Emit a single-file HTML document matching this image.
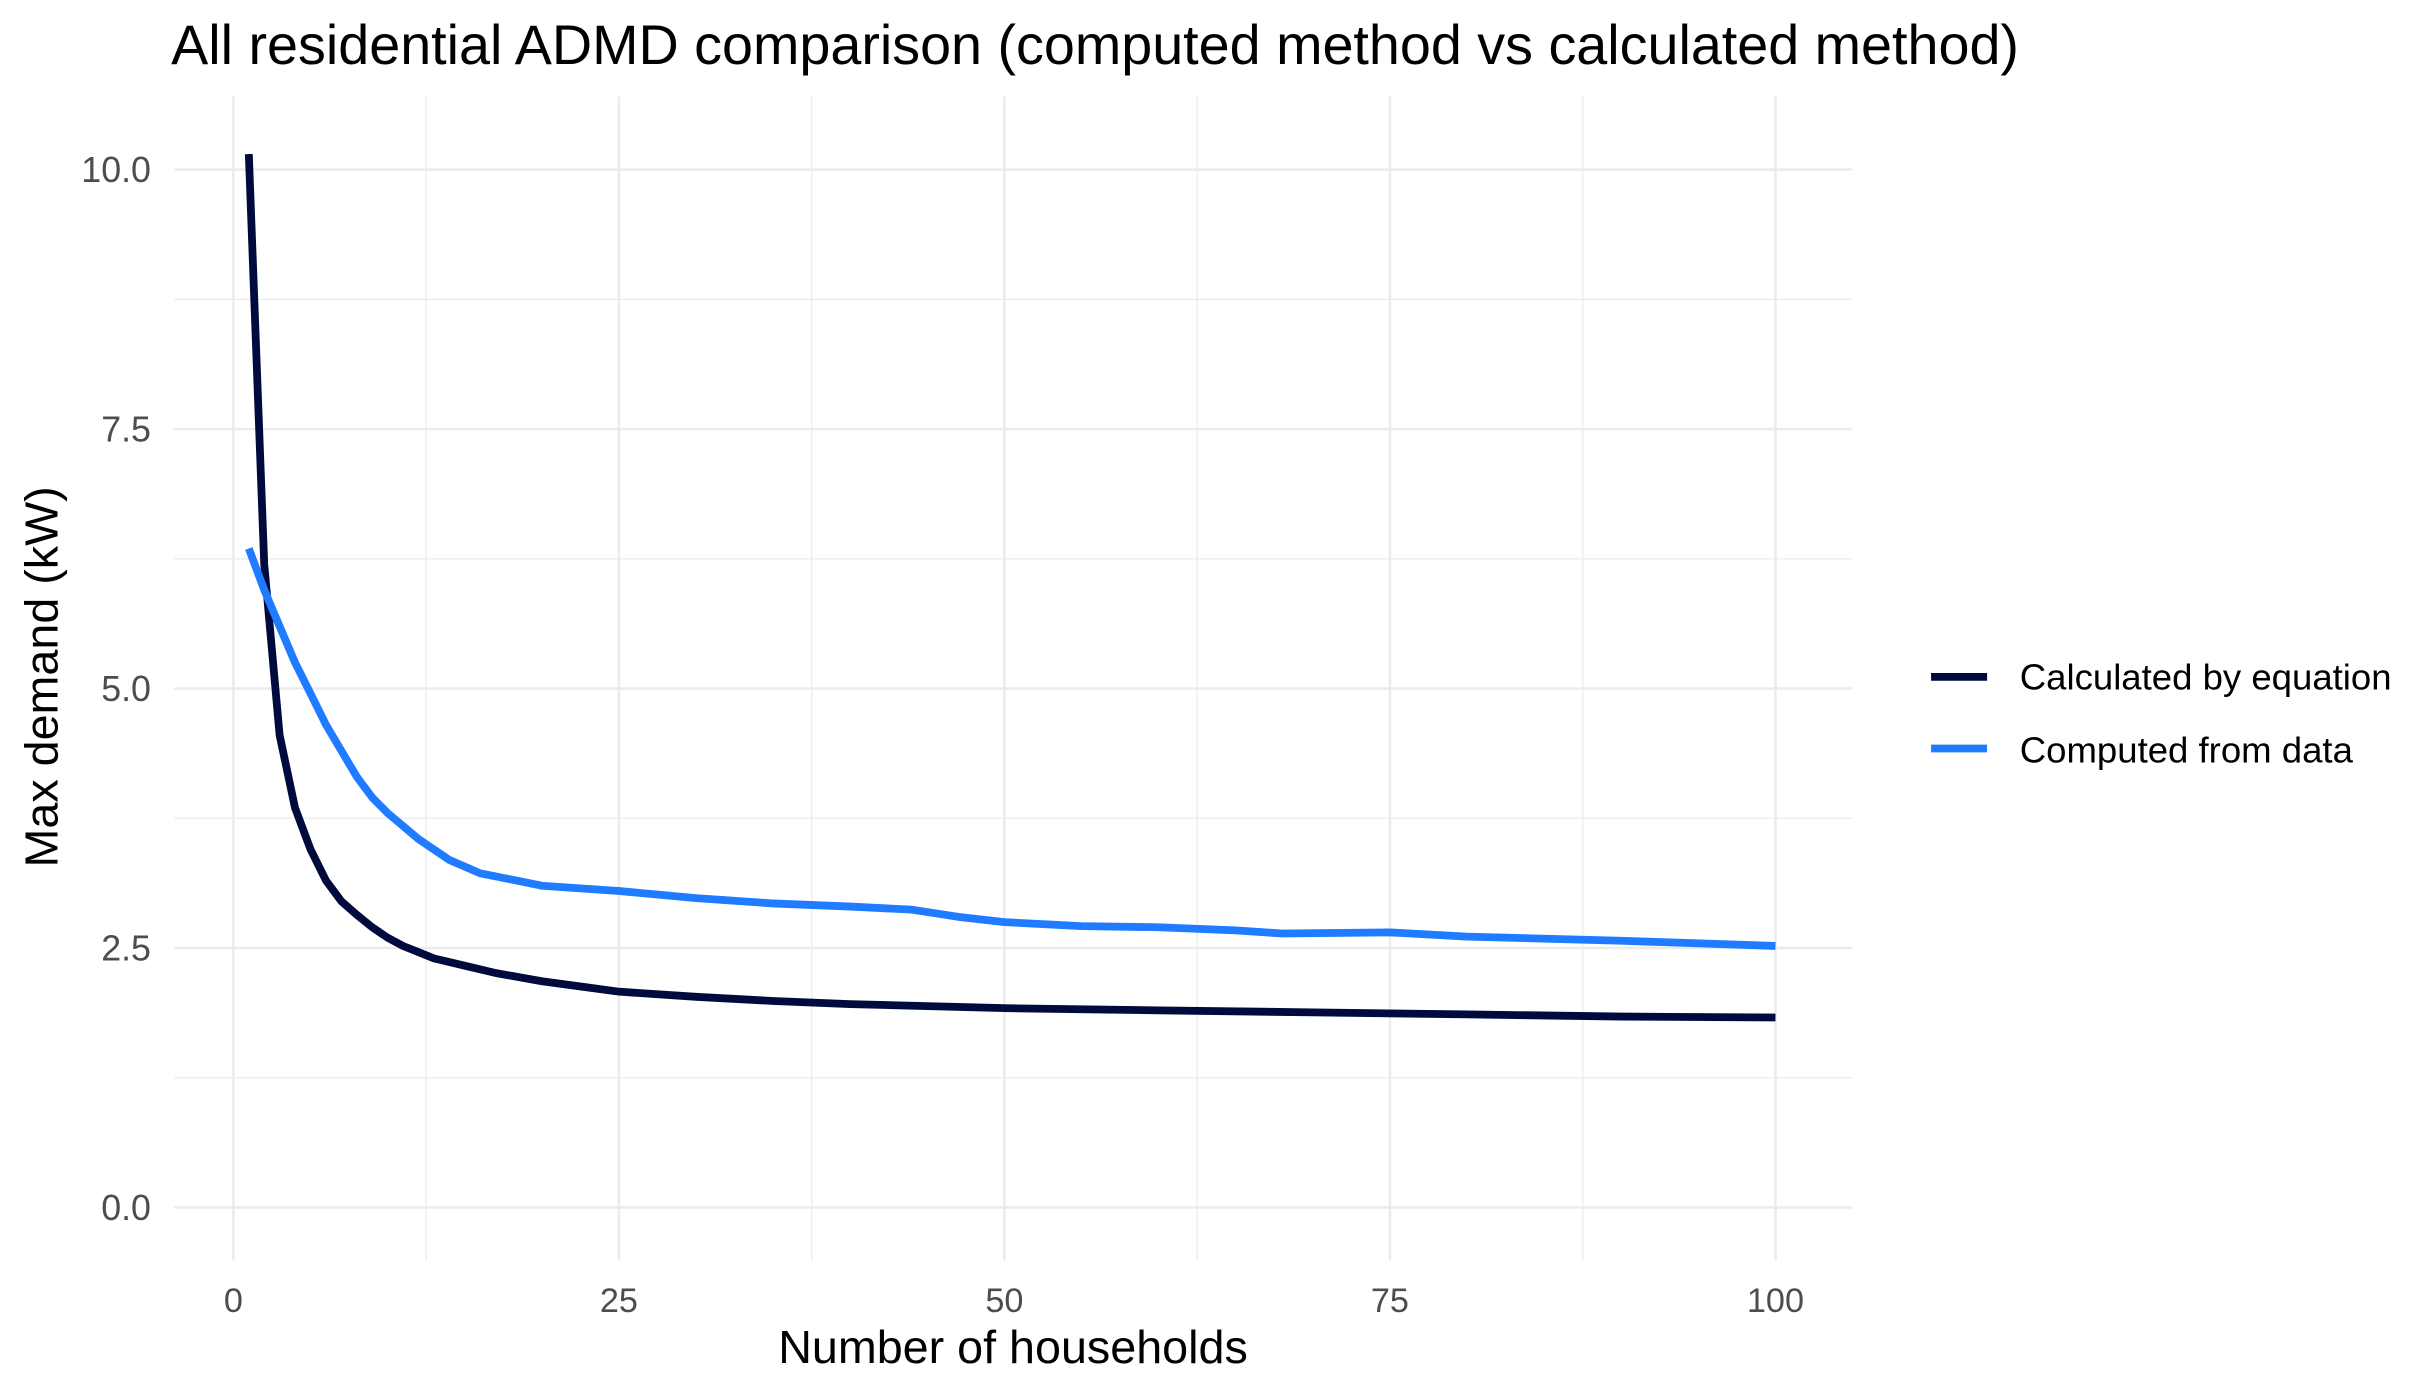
<!DOCTYPE html>
<html><head><meta charset="utf-8"><style>
html,body{margin:0;padding:0;background:#fff;}
svg{display:block;font-family:"Liberation Sans",Arial,sans-serif;}
</style></head><body>
<svg id="chart" width="2415" height="1381" viewBox="0 0 1552 887.5" xmlns="http://www.w3.org/2000/svg">
<rect width="1552" height="887.5" fill="#fff"/>
<g id="grid"></g>
<g id="lines"></g>
<g id="axes"></g>
<text x="110" y="41" font-size="35.8" fill="#000">All residential ADMD comparison (computed method vs calculated method)</text>
<text x="651" y="876" font-size="30" text-anchor="middle" fill="#000">Number of households</text>
<text transform="translate(37,435) rotate(-90)" font-size="30" text-anchor="middle" fill="#000">Max demand (kW)</text>
<g>
<line x1="1241" x2="1277" y1="435" y2="435" stroke="#000a3d" stroke-width="5"/>
<text x="1298" y="443" font-size="23.5" fill="#000">Calculated by equation</text>
<line x1="1241" x2="1277" y1="481" y2="481" stroke="#1f7bff" stroke-width="5"/>
<text x="1298" y="490" font-size="23.5" fill="#000">Computed from data</text>
</g>
</svg>
<script>
const xTicks=[0,25,50,75,100];
const yTicks=[0,2.5,5,7.5,10];
const eqN=[1,2,3,4,5,6,7,8,9,10,11,12,13,15,17,20,23,25,30,35,40,45,50,60,70,80,90,100];
const eqVal=[10.15,6.2,4.55,3.85,3.45,3.15,2.95,2.82,2.7,2.6,2.52,2.46,2.4,2.33,2.26,2.18,2.12,2.08,2.03,1.99,1.96,1.94,1.92,1.9,1.88,1.86,1.84,1.83];
const dataN=[1,2,3,4,5,6,7,8,9,10,12,14,16,18,20,25,30,35,40,44,47,50,55,60,65,68,75,80,90,100];
const dataVal=[6.35,5.95,5.6,5.25,4.95,4.65,4.4,4.15,3.95,3.8,3.55,3.35,3.22,3.16,3.1,3.05,2.98,2.93,2.9,2.87,2.8,2.75,2.71,2.7,2.67,2.64,2.65,2.61,2.57,2.52];
const NS="http://www.w3.org/2000/svg";
const X0=112,X1=1190,Y0=62,Y1=810;
function sx(v){return 150+v*(1141-150)/100;}
function sy(v){return 776-v*(776-109)/10;}
function mk(t,a,p){const e=document.createElementNS(NS,t);for(const k in a)e.setAttribute(k,a[k]);p.appendChild(e);return e;}
const grid=document.getElementById('grid'),axes=document.getElementById('axes'),lines=document.getElementById('lines');
for(let i=0;i<xTicks.length;i++){
  const v=xTicks[i];
  const g=mk('line',{x1:sx(v),x2:sx(v),y1:Y0,y2:Y1,stroke:'#ebebeb','stroke-width':1.6},grid);
  
  
  if(i<xTicks.length-1){const m=(v+xTicks[i+1])/2;
    const g2=mk('line',{x1:sx(m),x2:sx(m),y1:Y0,y2:Y1,stroke:'#ebebeb','stroke-width':0.8},grid);
    
    }
  const t=mk('text',{x:sx(v),y:843,'font-size':22,'text-anchor':'middle',fill:'#4d4d4d'},axes);
  t.textContent=String(v);
  
  
}
for(let i=0;i<yTicks.length;i++){
  const v=yTicks[i];
  const g=mk('line',{x1:X0,x2:X1,y1:sy(v),y2:sy(v),stroke:'#ebebeb','stroke-width':1.6},grid);
  
  
  if(i<yTicks.length-1){const m=(v+yTicks[i+1])/2;
    const g2=mk('line',{x1:X0,x2:X1,y1:sy(m),y2:sy(m),stroke:'#ebebeb','stroke-width':0.8},grid);
    
    }
  const t=mk('text',{x:97,y:sy(v)+8,'font-size':23,'text-anchor':'end',fill:'#4d4d4d'},axes);
  t.textContent=v.toFixed(1);
  
  
}
function path(ns,vs){return ns.map((n,i)=>(i?'L':'M')+sx(n).toFixed(1)+','+sy(vs[i]).toFixed(1)).join(' ');}
const l1=mk('path',{d:path(eqN,eqVal),fill:'none',stroke:'#000a3d','stroke-width':5,'stroke-linejoin':'round'},lines);


const l2=mk('path',{d:path(dataN,dataVal),fill:'none',stroke:'#1f7bff','stroke-width':5,'stroke-linejoin':'round'},lines);


</script>
</body></html>
